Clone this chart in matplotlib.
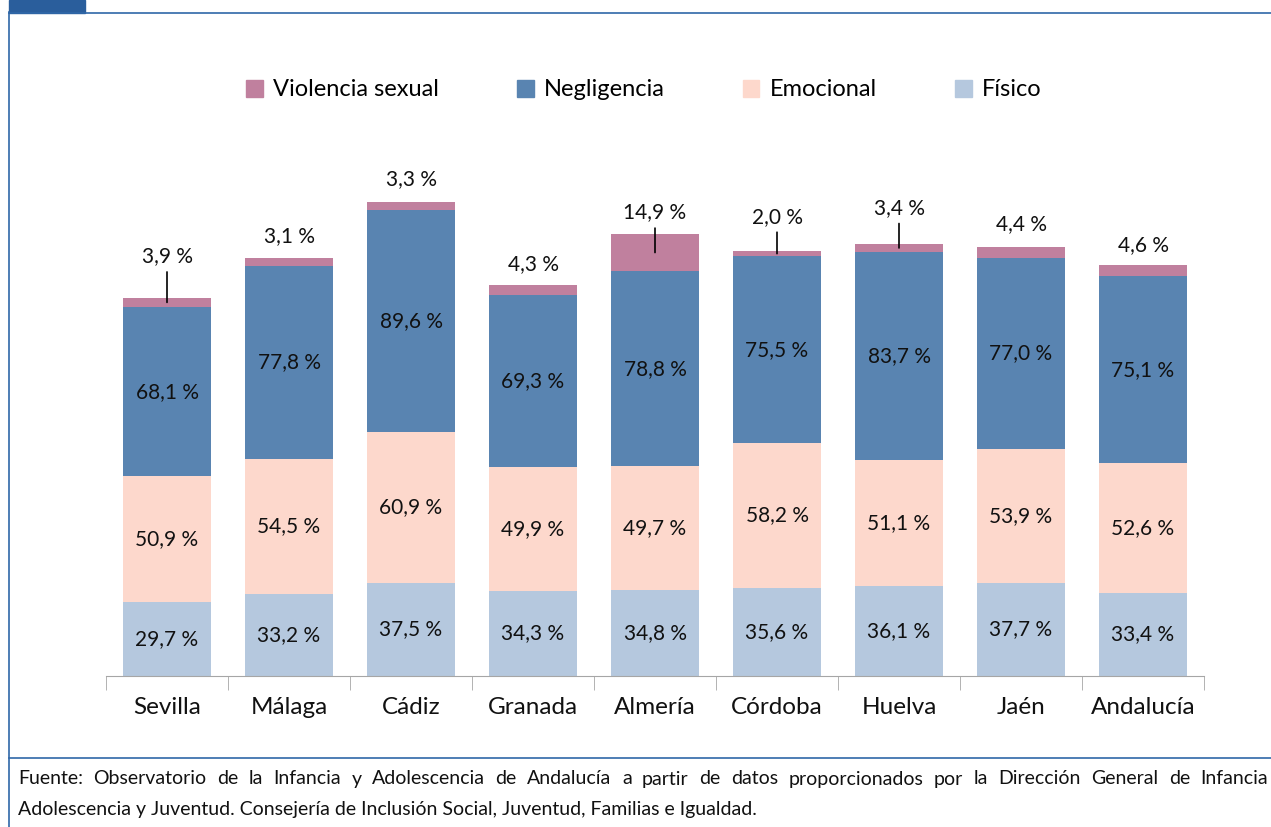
import numpy as np
import matplotlib
matplotlib.use("Agg")
import matplotlib.pyplot as plt
from matplotlib.patches import Rectangle
from matplotlib.lines import Line2D

plt.rcParams['font.family'] = ['Lato', 'DejaVu Sans']

provincias = ['Sevilla', 'Málaga', 'Cádiz', 'Granada', 'Almería',
              'Córdoba', 'Huelva', 'Jaén', 'Andalucía']
fisico = [29.7, 33.2, 37.5, 34.3, 34.8, 35.6, 36.1, 37.7, 33.4]
emocional = [50.9, 54.5, 60.9, 49.9, 49.7, 58.2, 51.1, 53.9, 52.6]
negligencia = [68.1, 77.8, 89.6, 69.3, 78.8, 75.5, 83.7, 77.0, 75.1]
violencia = [3.9, 3.1, 3.3, 4.3, 14.9, 2.0, 3.4, 4.4, 4.6]

series = [('Físico', fisico, '#B5C8DE'),
          ('Emocional', emocional, '#FDD8CC'),
          ('Negligencia', negligencia, '#5984B1'),
          ('Violencia sexual', violencia, '#C0809E')]

# label offset (pixels above middle of pink segment) and leader line flag
top_offset = [46, 26, 27, 26, 40, 37, 40, 28, 26]
leader = [True, False, False, False, True, True, True, False, False]

fig = plt.figure(figsize=(12.71, 8.27), dpi=100)
W, H = 1271, 827

ax = fig.add_axes([106 / W, 1 - 676 / H, (1204 - 106) / W, (676 - 180) / H])
x = np.arange(len(provincias))
bottom = np.zeros(len(provincias))
for name, vals, col in series:
    vals = np.array(vals)
    ax.bar(x, vals, 0.72, bottom=bottom, color=col, label=name, zorder=2)
    if name != 'Violencia sexual':
        for xi, b, v in zip(x, bottom, vals):
            ax.text(xi, b + v / 2, f"{v:.1f} %".replace('.', ','), ha='center',
                    va='center', fontsize=15, color='#111111')
    else:
        for xi, b, v, off, ld in zip(x, bottom, vals, top_offset, leader):
            ax.annotate(f"{v:.1f} %".replace('.', ','), xy=(xi, b + v / 2),
                        xytext=(0, off), textcoords='offset pixels',
                        ha='center', va='center', fontsize=15, color='#111111',
                        arrowprops=dict(arrowstyle='-', color='black', lw=1.2,
                                        shrinkA=2, shrinkB=0) if ld else None)
    bottom += vals

ax.set_xlim(-0.5, len(provincias) - 0.5)
ax.set_ylim(0, 200)
ax.set_yticks([])
for s in ['top', 'right', 'left']:
    ax.spines[s].set_visible(False)
ax.spines['bottom'].set_color('#A6A6A6')
ax.set_xticks(np.arange(len(provincias) + 1) - 0.5, minor=True)
ax.tick_params(axis='x', which='minor', length=10, color='#A6A6A6')
ax.set_xticks(x)
ax.set_xticklabels(provincias, fontsize=17.5, color='#111111')
ax.tick_params(axis='x', which='major', length=0, pad=15)

handles = [Rectangle((0, 0), 1, 1, color=c) for c in
           ['#C0809E', '#5984B1', '#FDD8CC', '#B5C8DE']]
labels = ['Violencia sexual', 'Negligencia', 'Emocional', 'Físico']
fig.legend(handles, labels, loc='center', bbox_to_anchor=(644 / W, 1 - 90 / H),
           ncol=4, frameon=False, fontsize=17, handlelength=0.7,
           handleheight=0.7, handletextpad=0.45, columnspacing=3.3)

# frame
blue = '#2F67A8'
fig.add_artist(Rectangle((9 / W, 1 - 13 / H), 76 / W, 13 / H, color='#2A5E9C',
                         transform=fig.transFigure))
fig.add_artist(Line2D([9 / W, 1], [1 - 12.5 / H, 1 - 12.5 / H], color=blue, lw=1.2,
                      transform=fig.transFigure))
fig.add_artist(Line2D([9 / W, 9 / W], [0, 1 - 12 / H], color=blue, lw=1.2,
                      transform=fig.transFigure))
fig.add_artist(Line2D([9 / W, 1], [1 - 758 / H, 1 - 758 / H], color=blue, lw=1.2,
                      transform=fig.transFigure))

# justified footer
line1 = ("Fuente: Observatorio de la Infancia y Adolescencia de Andalucía a partir "
         "de datos proporcionados por la Dirección General de Infancia")
line2 = "Adolescencia y Juventud. Consejería de Inclusión Social, Juventud, Familias e Igualdad."
fig.canvas.draw()
renderer = fig.canvas.get_renderer()
words = line1.split()
x0, x1 = 18, 1268
fs = 14
ws = []
for w in words:
    t = fig.text(0, 0, w, fontsize=fs)
    ws.append(t.get_window_extent(renderer).width)
    t.remove()
gap = (x1 - x0 - sum(ws)) / (len(words) - 1)
cx = x0
for w, wd in zip(words, ws):
    fig.text(cx / W, 1 - 779 / H, w, fontsize=fs, va='center', ha='left', color='#111111')
    cx += wd + gap
fig.text(x0 / W, 1 - 809 / H, line2, fontsize=fs, va='center', ha='left', color='#111111')

fig.savefig('out.png', dpi=100)
